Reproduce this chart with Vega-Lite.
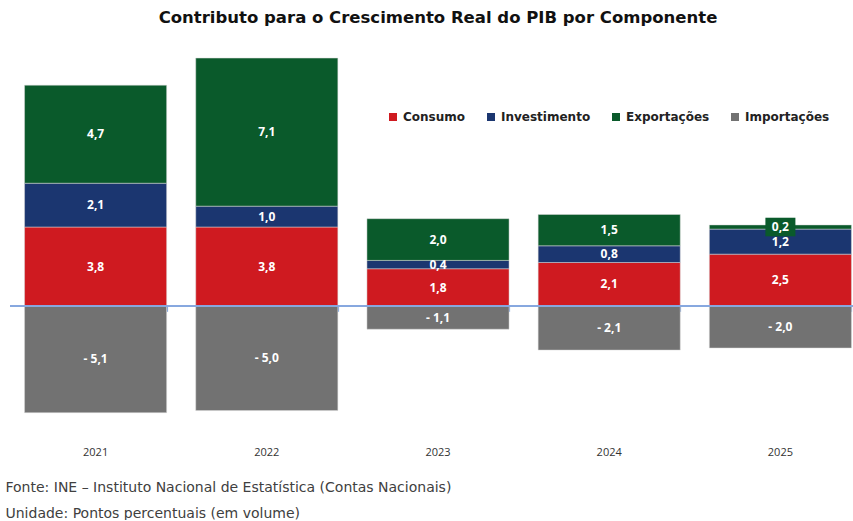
{
  "$schema": "https://vega.github.io/schema/vega-lite/v6.json",
  "width": 856,
  "height": 365,
  "padding": {"left": 5, "top": 9, "right": 0, "bottom": 0},
  "background": "white",
  "title": {
    "text": "Contributo para o Crescimento Real do PIB por Componente",
    "font": "DejaVu Sans",
    "fontSize": 16.5,
    "fontWeight": "bold",
    "color": "#111111",
    "anchor": "middle",
    "offset": 22,
    "baseline": "middle"
  },
  "data": {
    "values": [
      {"year": "2021", "comp": "Consumo", "value": 3.8, "label": "3,8"},
      {"year": "2021", "comp": "Investimento", "value": 2.1, "label": "2,1"},
      {"year": "2021", "comp": "Exportações", "value": 4.7, "label": "4,7"},
      {"year": "2021", "comp": "Importações", "value": -5.1, "label": "- 5,1"},
      {"year": "2022", "comp": "Consumo", "value": 3.8, "label": "3,8"},
      {"year": "2022", "comp": "Investimento", "value": 1.0, "label": "1,0"},
      {"year": "2022", "comp": "Exportações", "value": 7.1, "label": "7,1"},
      {"year": "2022", "comp": "Importações", "value": -5.0, "label": "- 5,0"},
      {"year": "2023", "comp": "Consumo", "value": 1.8, "label": "1,8"},
      {"year": "2023", "comp": "Investimento", "value": 0.4, "label": "0,4"},
      {"year": "2023", "comp": "Exportações", "value": 2.0, "label": "2,0"},
      {"year": "2023", "comp": "Importações", "value": -1.1, "label": "- 1,1"},
      {"year": "2024", "comp": "Consumo", "value": 2.1, "label": "2,1"},
      {"year": "2024", "comp": "Investimento", "value": 0.8, "label": "0,8"},
      {"year": "2024", "comp": "Exportações", "value": 1.5, "label": "1,5"},
      {"year": "2024", "comp": "Importações", "value": -2.1, "label": "- 2,1"},
      {"year": "2025", "comp": "Consumo", "value": 2.5, "label": "2,5"},
      {"year": "2025", "comp": "Investimento", "value": 1.2, "label": "1,2"},
      {"year": "2025", "comp": "Exportações", "value": 0.2, "label": "0,2"},
      {"year": "2025", "comp": "Importações", "value": -2.0, "label": "- 2,0"}
    ]
  },
  "transform": [
    {"calculate": "indexof(['Consumo','Investimento','Exportações','Importações'], datum.comp)", "as": "ord"},
    {"stack": "value", "groupby": ["year"], "sort": [{"field": "ord", "order": "ascending"}], "as": ["v0", "v1"], "offset": "zero"},
    {"calculate": "(datum.v0 + datum.v1) / 2", "as": "vmid"}
  ],
  "layer": [
    {
      "mark": {"type": "bar", "stroke": "#d8d8d8", "strokeWidth": 0.5},
      "encoding": {
        "x": {
          "field": "year",
          "type": "nominal",
          "scale": {"paddingInner": 0.17, "paddingOuter": 0.085},
          "axis": {
            "orient": "bottom",
            "domain": false,
            "ticks": false,
            "labelAngle": 0,
            "labelFont": "Open Sans",
            "labelFontSize": 11,
            "labelColor": "#333333",
            "labelPadding": 25,
            "title": ["Fonte: INE – Instituto Nacional de Estatística (Contas Nacionais)", "Unidade: Pontos percentuais (em volume)"],
            "titleFont": "DejaVu Sans",
            "titleFontSize": 14,
            "titleFontWeight": "normal",
            "titleColor": "#404040",
            "titleAnchor": "start",
            "titleAlign": "left",
            "titleBaseline": "middle",
            "titleX": -5,
            "titleY": 66,
            "titleLineHeight": 26
          }
        },
        "y": {
          "field": "v0",
          "type": "quantitative",
          "scale": {"domain": [-5.5, 12], "nice": false, "zero": false},
          "axis": null
        },
        "y2": {"field": "v1"},
        "color": {
          "field": "comp",
          "type": "nominal",
          "sort": ["Consumo", "Investimento", "Exportações", "Importações"],
          "scale": {
            "domain": ["Consumo", "Investimento", "Exportações", "Importações"],
            "range": ["#CF1A20", "#1B3670", "#0A5A2B", "#727272"]
          },
          "legend": {
            "title": null,
            "orient": "none",
            "direction": "horizontal",
            "legendX": 377,
            "legendY": 55,
            "symbolType": "square",
            "symbolSize": 64,
            "symbolStrokeWidth": 0,
            "labelFont": "DejaVu Sans",
            "labelFontSize": 12,
            "labelFontWeight": "bold",
            "labelColor": "#222222",
            "labelOffset": 4,
            "columnPadding": 19
          }
        }
      }
    },
    {
      "mark": {"type": "rule", "color": "#86A8DE", "strokeWidth": 1.2},
      "encoding": {"y": {"datum": 0}}
    },
    {
      "transform": [{"filter": "abs(datum.value) < 0.3"}],
      "mark": {"type": "point", "shape": "M-1,-0.62H1V0.62H-1Z", "filled": true, "color": "#0A5A2B", "size": 900, "opacity": 1},
      "encoding": {
        "x": {"field": "year", "type": "nominal", "axis": null},
        "y": {"field": "vmid", "type": "quantitative"}
      }
    },
    {
      "mark": {"type": "text", "color": "white", "font": "Open Sans", "fontSize": 12, "fontWeight": "bold", "baseline": "middle"},
      "encoding": {
        "x": {
          "field": "year",
          "type": "nominal",
          "axis": {
            "orient": "bottom",
            "offset": -114.7,
            "domain": false,
            "ticks": true,
            "tickBand": "extent",
            "tickSize": 5,
            "tickColor": "#86A8DE",
            "tickWidth": 1.2,
            "labels": false,
            "title": null
          }
        },
        "y": {"field": "vmid", "type": "quantitative"},
        "text": {"field": "label"}
      }
    }
  ],
  "resolve": {"axis": {"x": "independent"}},
  "config": {"view": {"stroke": null}}
}
